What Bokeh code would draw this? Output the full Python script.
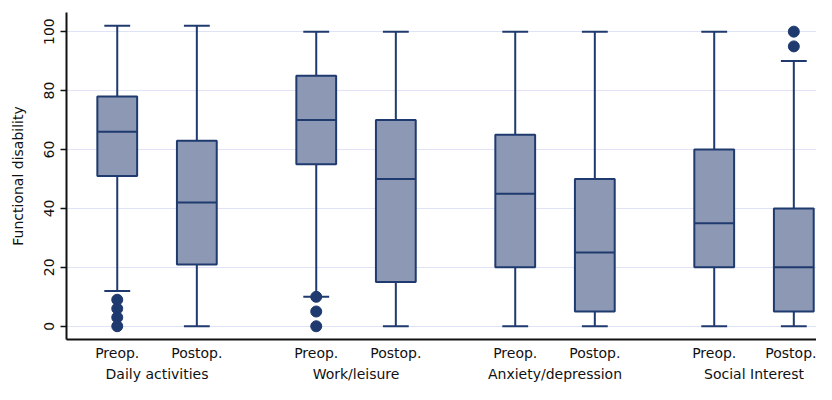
from bokeh.plotting import figure
from bokeh.models import Range1d, FixedTicker, LinearAxis, ColumnDataSource
from bokeh.embed import file_html
from bokeh.resources import INLINE

groups = ["Daily activities", "Work/leisure", "Anxiety/depression", "Social Interest"]
conditions = ["Preop.", "Postop."]

lower_whisker = [12, 0, 10, 0, 0, 0, 0, 0]
q1 = [51, 21, 55, 15, 20, 5, 20, 5]
median = [66, 42, 70, 50, 45, 25, 35, 20]
q3 = [78, 63, 85, 70, 65, 50, 60, 40]
upper_whisker = [102, 102, 100, 100, 100, 100, 100, 90]

outlier_box = [0, 0, 0, 0, 2, 2, 2, 7, 7]
outlier_value = [9, 6, 3, 0, 10, 5, 0, 100, 95]

offset = 0.2
xs = []
labels = {}
for gi, g in enumerate(groups):
    for ci, c in enumerate(conditions):
        x = gi + (-offset if ci == 0 else offset)
        xs.append(x)
        labels[x] = c

LINE = "#1f3a6e"
FILL = "#8d98b4"
FONT = "DejaVu Sans"
TXT = "#111111"

p = figure(width=816, height=384, output_backend="svg", toolbar_location=None,
           x_range=Range1d(-0.455, 3.314), y_range=Range1d(-4.5, 106.5),
           min_border_left=66, min_border_top=12, min_border_right=0, min_border_bottom=0)
p.outline_line_color = None
p.background_fill_color = "white"
p.xgrid.visible = False
p.ygrid.grid_line_color = "#dfe3f5"
p.ygrid.grid_line_width = 1

src = ColumnDataSource(dict(x=xs, lo=lower_whisker, q1=q1, med=median, q3=q3, hi=upper_whisker))

bw = 0.2
cw = 0.13
p.segment(x0="x", y0="q3", x1="x", y1="hi", source=src, line_color=LINE, line_width=2)
p.segment(x0="x", y0="q1", x1="x", y1="lo", source=src, line_color=LINE, line_width=2)
cap_x0 = [x - cw / 2 for x in xs]
cap_x1 = [x + cw / 2 for x in xs]
p.segment(x0=cap_x0, y0=upper_whisker, x1=cap_x1, y1=upper_whisker, line_color=LINE, line_width=2)
p.segment(x0=cap_x0, y0=lower_whisker, x1=cap_x1, y1=lower_whisker, line_color=LINE, line_width=2)
p.vbar(x="x", bottom="q1", top="q3", width=bw, source=src, fill_color=FILL,
       line_color=LINE, line_width=2)
p.segment(x0=[x - bw / 2 for x in xs], y0=median, x1=[x + bw / 2 for x in xs], y1=median,
          line_color=LINE, line_width=2)
p.scatter(x=[xs[i] for i in outlier_box], y=outlier_value, size=11,
          fill_color=LINE, line_color=LINE)

# y axis
ya = p.yaxis[0]
ya.ticker = FixedTicker(ticks=[0, 20, 40, 60, 80, 100])
ya.major_label_orientation = "vertical"
ya.major_tick_out = 6
ya.major_tick_in = 0
ya.minor_tick_line_color = None
ya.axis_line_width = 2
ya.axis_line_color = "#111111"
ya.major_tick_line_color = "#111111"
ya.major_tick_line_width = 1.5
ya.major_label_text_font = FONT
ya.major_label_text_font_size = "14px"
ya.major_label_text_color = TXT
ya.major_label_standoff = 6
ya.axis_label = "Functional disability"
ya.axis_label_text_font = FONT
ya.axis_label_text_font_size = "14px"
ya.axis_label_text_font_style = "normal"
ya.axis_label_text_color = TXT
ya.axis_label_standoff = 16

# x axis (conditions)
xa = p.xaxis[0]
xa.ticker = FixedTicker(ticks=xs)
xa.major_label_overrides = {x: l for x, l in labels.items()}
xa.major_tick_out = 0
xa.major_tick_in = 0
xa.minor_tick_line_color = None
xa.axis_line_width = 2
xa.axis_line_color = "#111111"
xa.major_label_text_font = FONT
xa.major_label_text_font_size = "14px"
xa.major_label_text_color = TXT
xa.major_label_standoff = 5

# group labels axis
ga = LinearAxis(ticker=FixedTicker(ticks=list(range(len(groups)))),
                major_label_overrides={i: g for i, g in enumerate(groups)})
ga.axis_line_color = None
ga.major_tick_line_color = None
ga.minor_tick_line_color = None
ga.major_tick_out = 0
ga.major_tick_in = 0
ga.major_label_text_font = FONT
ga.major_label_text_font_size = "14px"
ga.major_label_text_color = TXT
ga.major_label_standoff = 2
p.add_layout(ga, "below")

open("out.html", "w").write(file_html(p, INLINE))
